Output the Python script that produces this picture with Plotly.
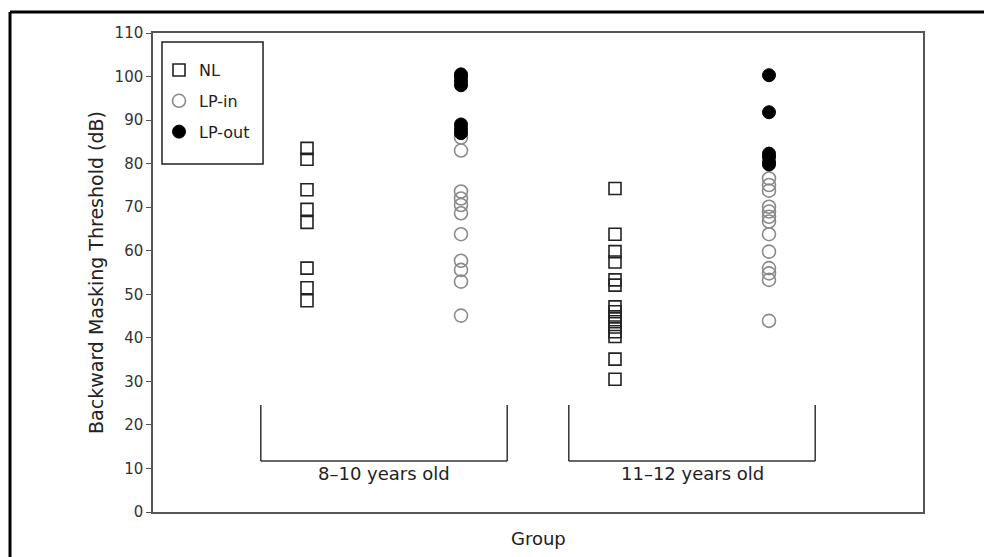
import plotly.graph_objects as go

# ---- data ----
group_labels = ["8\u201310 years old", "11\u201312 years old"]
group_centers = [3, 7]
nl_x = [2, 6]
lp_x = [4, 8]

nl_g1 = [83.5, 81, 74, 69.5, 66.5, 56, 51.5, 48.5]
lpin_g1 = [86, 83, 73.6, 72, 70.5, 68.6, 63.8, 57.7, 55.6, 52.9, 45.1]
lpout_g1 = [100.5, 100, 99, 98, 89, 88, 87]

nl_g2 = [74.3, 63.8, 59.8, 57.4, 53.3, 52.1, 47.1, 46, 44.8, 43.7, 42.5, 41.4,
         40.3, 35.1, 30.5]
lpin_g2 = [76.6, 75.1, 73.8, 70.1, 69, 67.8, 66.7, 63.8, 59.8, 56, 54.8, 53.3, 43.9]
lpout_g2 = [100.3, 91.8, 82.3, 81.5, 80.3, 79.8]

y_ticks = list(range(0, 111, 10))

FONT = "DejaVu Sans, Arial, sans-serif"

fig = go.Figure()

fig.add_trace(go.Scatter(
    x=[nl_x[0]] * len(nl_g1) + [nl_x[1]] * len(nl_g2),
    y=nl_g1 + nl_g2, mode="markers", name="NL", legendgroup="a",
    marker=dict(symbol="square-open", size=12, color="#222",
                line=dict(width=1.6, color="#222"))))
fig.add_trace(go.Scatter(
    x=[lp_x[0]] * len(lpin_g1) + [lp_x[1]] * len(lpin_g2),
    y=lpin_g1 + lpin_g2, mode="markers", name="LP-in", legendgroup="b",
    marker=dict(symbol="circle-open", size=13, color="#8a8a8a",
                line=dict(width=1.6, color="#8a8a8a"))))
fig.add_trace(go.Scatter(
    x=[lp_x[0]] * len(lpout_g1) + [lp_x[1]] * len(lpout_g2),
    y=lpout_g1 + lpout_g2, mode="markers", name="LP-out", legendgroup="c",
    marker=dict(symbol="circle", size=13, color="#000",
                line=dict(width=1, color="#000"))))

# brackets
for c in group_centers:
    x0, x1 = c - 1.6, c + 1.6
    yb, yt = 11.7, 24.6
    fig.add_shape(type="line", x0=x0, x1=x1, y0=yb, y1=yb, xref="x", yref="y",
                  line=dict(color="#333", width=1.5))
    fig.add_shape(type="line", x0=x0, x1=x0, y0=yb, y1=yt, xref="x", yref="y",
                  line=dict(color="#333", width=1.5))
    fig.add_shape(type="line", x0=x1, x1=x1, y0=yb, y1=yt, xref="x", yref="y",
                  line=dict(color="#333", width=1.5))

for c, lab in zip(group_centers, group_labels):
    fig.add_annotation(x=c, y=11.7, xref="x", yref="y", text=lab, showarrow=False,
                       yanchor="top", yshift=0, font=dict(size=18, color="#222"))

fig.add_annotation(x=0.5, y=0, xref="paper", yref="paper", text="Group",
                   showarrow=False, yanchor="middle", yshift=-26,
                   font=dict(size=18, color="#222"))

# legend frame
fig.add_shape(type="rect", xref="paper", yref="paper", x0=0.0117, x1=0.1429,
              y0=0.7265, y1=0.9812, line=dict(color="#222", width=1.5))

# outer frame (left and top)
fig.add_shape(type="line", xref="paper", yref="paper", x0=-0.1857, x1=1.2,
              y0=1.0438, y1=1.0438, line=dict(color="#000", width=3))
fig.add_shape(type="line", xref="paper", yref="paper", x0=-0.1857, x1=-0.1857,
              y0=1.0438, y1=-0.2, line=dict(color="#000", width=3))

fig.update_layout(
    width=992, height=557,
    margin=dict(l=145, r=77, t=25, b=53),
    plot_bgcolor="white", paper_bgcolor="white",
    font=dict(family=FONT, color="#222"),
    showlegend=True,
    legend=dict(x=0.0078, y=0.958, xanchor="left", yanchor="top",
                borderwidth=0, bgcolor="rgba(0,0,0,0)",
                tracegroupgap=7, font=dict(size=16, color="#222")),
)
fig.update_xaxes(range=[0, 10], showgrid=False, zeroline=False, showticklabels=False,
                 ticks="", showline=True, linecolor="#555", linewidth=1.5, mirror=True)
fig.update_yaxes(range=[0, 110], tickvals=y_ticks, showgrid=False, zeroline=False,
                 ticks="outside", ticklen=5, tickcolor="#555", showline=True,
                 linecolor="#555", linewidth=1.5, mirror=True,
                 tickfont=dict(size=15, color="#333"),
                 title=dict(text="Backward Masking Threshold (dB)",
                            font=dict(size=19, color="#222"), standoff=6))

fig.write_html("out.html")
